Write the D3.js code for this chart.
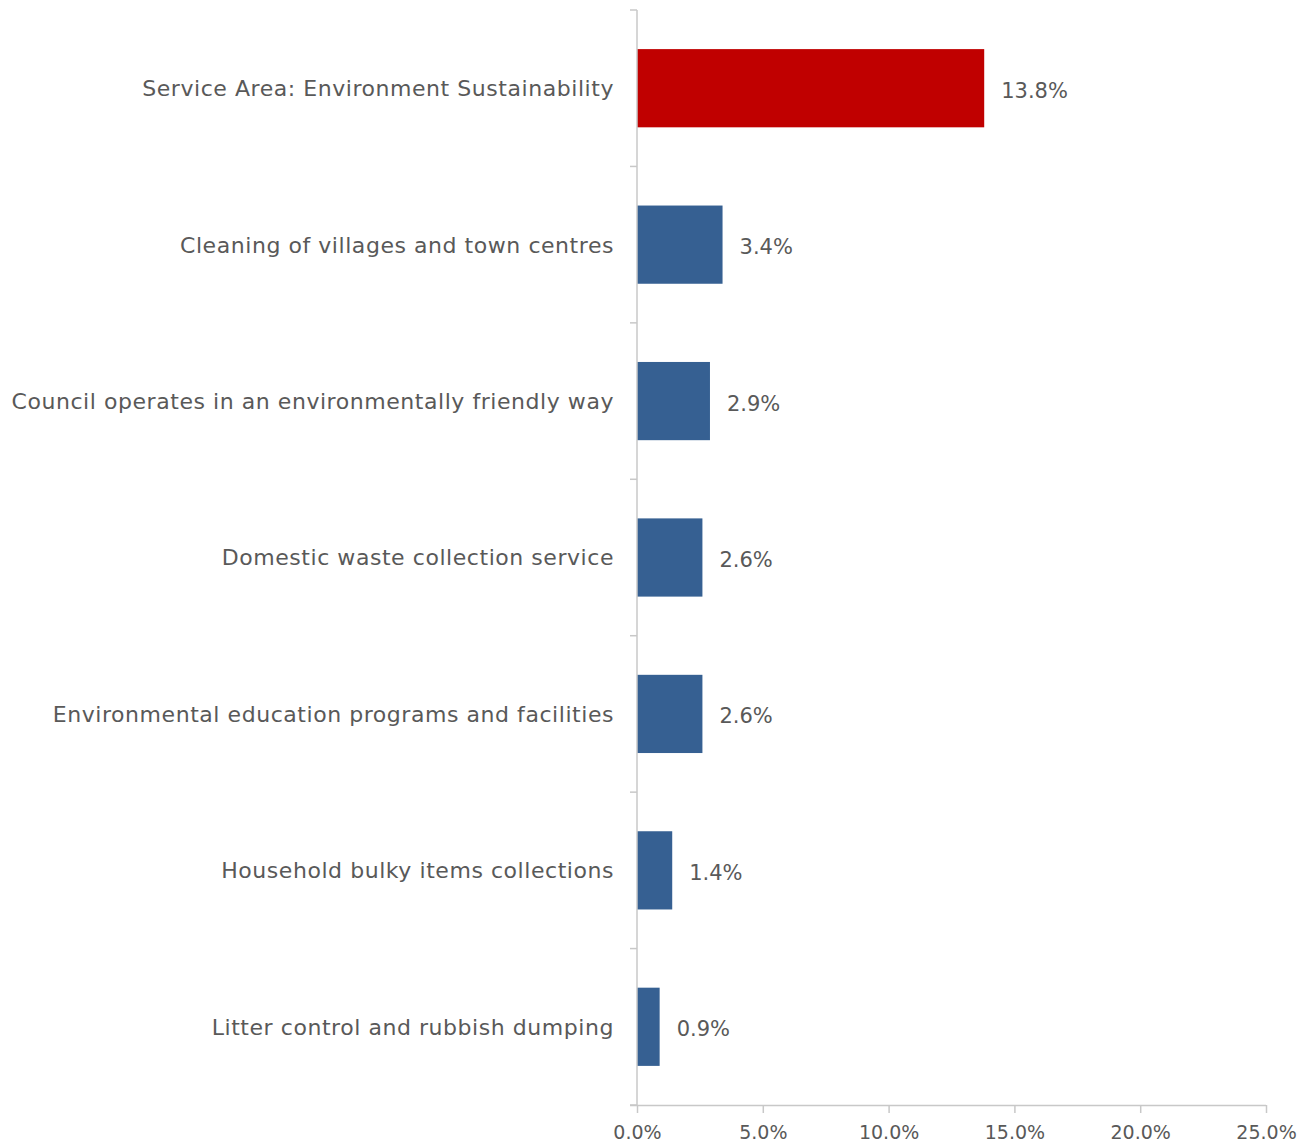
<!DOCTYPE html>
<html>
<head>
<meta charset="utf-8">
<script src="https://cdn.jsdelivr.net/npm/d3@7"></script>
<style>
  html, body { margin: 0; padding: 0; background: #fff; }
  svg text { font-family: "DejaVu Sans", sans-serif; fill: #595959; }
</style>
</head>
<body>
<svg id="chart" width="1314" height="1144"></svg>
<script>
// Share of respondents mentioning each service area (%)
const categories = [
  "Service Area: Environment Sustainability",
  "Cleaning of villages and town centres",
  "Council operates in an environmentally friendly way",
  "Domestic waste collection service",
  "Environmental education programs and facilities",
  "Household bulky items collections",
  "Litter control and rubbish dumping"
];
const values = [13.8, 3.4, 2.9, 2.6, 2.6, 1.4, 0.9];
const xTicks = [0, 5, 10, 15, 20, 25];

const margin = { top: 10, left: 637, right: 48, bottom: 39 };
const width = 1314, height = 1144;

const svg = d3.select("#chart");
const x = d3.scaleLinear().domain([0, 25]).range([margin.left, width - margin.right]);
const y = d3.scaleBand().domain(categories).range([margin.top, height - margin.bottom]).paddingInner(0.5).paddingOuter(0.25);

const axisColor = "#c8c8c8";

// bars
svg.append("g").selectAll("rect")
  .data(categories)
  .join("rect")
  .attr("x", x(0))
  .attr("y", d => y(d))
  .attr("width", (d, i) => x(values[i]) - x(0))
  .attr("height", y.bandwidth())
  .attr("fill", (d, i) => i === 0 ? "#c00000" : "#366092");

// value labels
svg.append("g").selectAll("text")
  .data(categories)
  .join("text")
  .attr("x", (d, i) => x(values[i]) + 17)
  .attr("y", d => y(d) + y.bandwidth() / 2 + 2)
  .attr("dy", "0.36em")
  .attr("font-size", 21)
  .text((d, i) => values[i].toFixed(1) + "%");

// category labels
svg.append("g").selectAll("text")
  .data(categories)
  .join("text")
  .attr("x", margin.left - 23)
  .attr("y", d => y(d) + y.bandwidth() / 2)
  .attr("dy", "0.36em")
  .attr("text-anchor", "end")
  .attr("font-size", 22)
  .attr("letter-spacing", 0.55)
  .text(d => d);

// y axis line with boundary ticks between categories
const yTop = margin.top, yBottom = height - margin.bottom;
const step = (yBottom - yTop) / categories.length;
const yAxis = svg.append("g");
yAxis.append("line")
  .attr("x1", x(0)).attr("x2", x(0))
  .attr("y1", yTop).attr("y2", yBottom)
  .attr("stroke", axisColor).attr("stroke-width", 1.5);
yAxis.selectAll("line.tick")
  .data(d3.range(categories.length + 1))
  .join("line")
  .attr("class", "tick")
  .attr("x1", x(0) - 7).attr("x2", x(0))
  .attr("y1", i => yTop + i * step).attr("y2", i => yTop + i * step)
  .attr("stroke", axisColor).attr("stroke-width", 1.5);

// x axis
const xAxis = svg.append("g")
  .attr("transform", `translate(0,${yBottom})`)
  .call(d3.axisBottom(x).tickValues(xTicks).tickSize(8).tickPadding(13).tickFormat(d => d.toFixed(1) + "%"));
xAxis.select(".domain").attr("stroke", axisColor).attr("stroke-width", 1.5)
  .attr("d", `M${x(0) - 7},0.5H${x(25)}`);
xAxis.selectAll(".tick line").attr("stroke", axisColor).attr("stroke-width", 1.5);
xAxis.selectAll(".tick text").attr("font-size", 19).style("font-family", "DejaVu Sans, sans-serif").attr("fill", "#595959");
</script>
</body>
</html>
